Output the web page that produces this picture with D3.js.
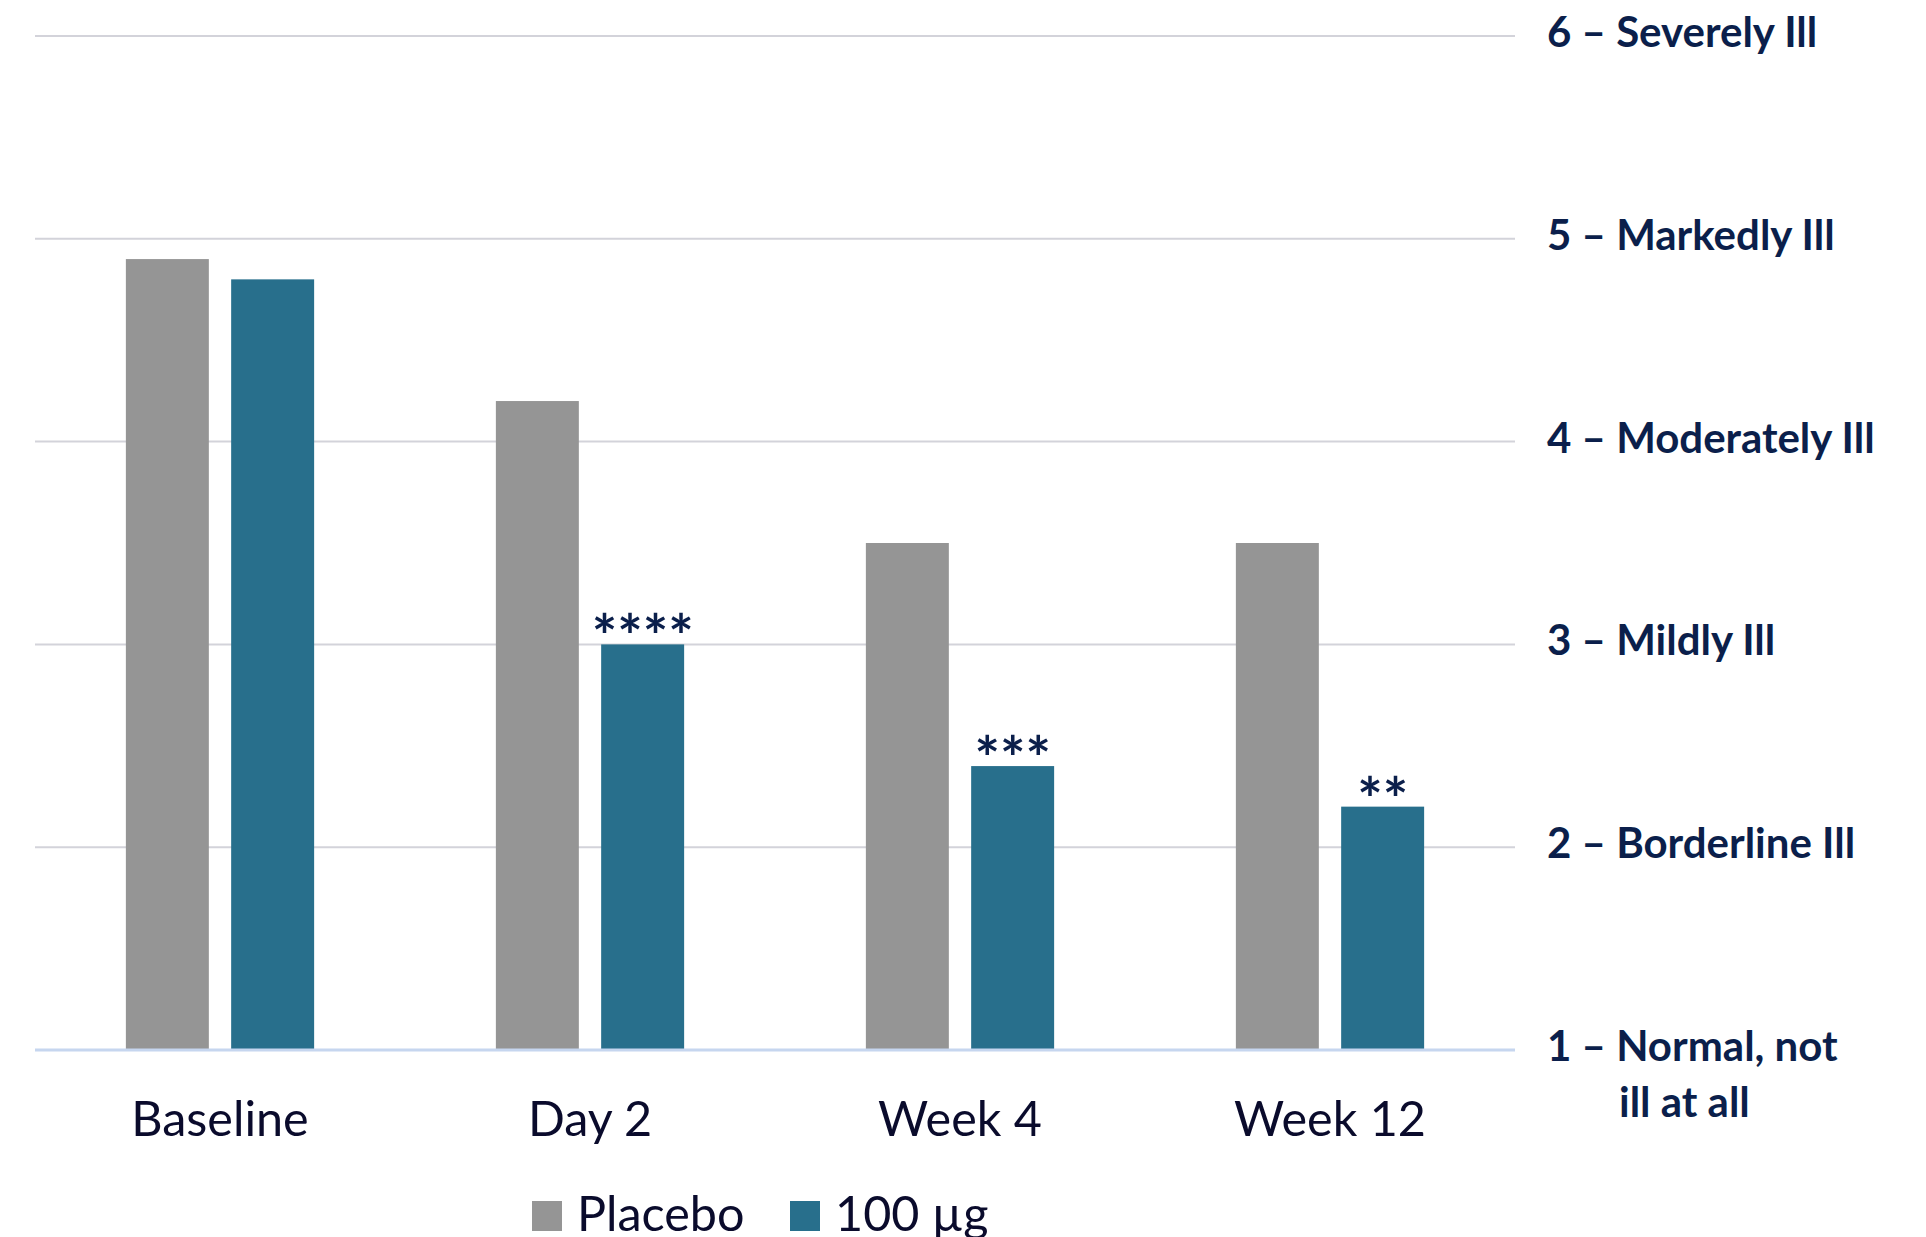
<!DOCTYPE html>
<html>
<head>
<meta charset="utf-8">
<script src="https://cdn.jsdelivr.net/npm/d3@7"></script>
<style>
  html, body { margin: 0; padding: 0; background: #ffffff; }
  svg { display: block; }
</style>
</head>
<body>
<svg id="chart" width="1926" height="1237"></svg>
<script>
// CGI-S severity over time, placebo vs. 100 µg
const categories = ["Baseline", "Day 2", "Week 4", "Week 12"];
const seriesNames = ["Placebo", "100 µg"];
const placeboValues = [4.9, 4.2, 3.5, 3.5];
const doseValues = [4.8, 3.0, 2.4, 2.2];
const significance = ["", "****", "***", "**"];
const severityTicks = [1, 2, 3, 4, 5, 6];
const severityLabels = [
  ["1 – Normal, not", "ill at all"],
  ["2 – Borderline Ill"],
  ["3 – Mildly Ill"],
  ["4 – Moderately Ill"],
  ["5 – Markedly Ill"],
  ["6 – Severely Ill"]
];

const colors = { "Placebo": "#959595", "100 µg": "#286f8c" };
const navy = "#0b1f4b";
const labelInk = "#0a0b2c";

const svg = d3.select("#chart");
const plot = { left: 35, right: 1515, top: 36, bottom: 1050 };

const x = d3.scaleBand().domain(categories).range([plot.left, plot.right]);
const xInner = d3.scaleBand().domain(seriesNames)
  .range([0, x.bandwidth()]).paddingInner(0.212).paddingOuter(0.863);
const y = d3.scaleLinear().domain([1, 6]).range([plot.bottom, plot.top]);

// horizontal gridlines
svg.append("g")
  .selectAll("line")
  .data(severityTicks.filter(t => t > 1))
  .join("line")
  .attr("x1", plot.left).attr("x2", plot.right)
  .attr("y1", d => y(d)).attr("y2", d => y(d))
  .attr("stroke", "#d3d3da").attr("stroke-width", 2);

// bars
const rows = categories.map((c, i) => ({
  category: c,
  values: [
    { series: "Placebo", value: placeboValues[i] },
    { series: "100 µg", value: doseValues[i] }
  ],
  sig: significance[i]
}));

const groups = svg.append("g").selectAll("g")
  .data(rows).join("g")
  .attr("transform", d => `translate(${x(d.category)},0)`);

groups.selectAll("rect")
  .data(d => d.values).join("rect")
  .attr("x", d => xInner(d.series))
  .attr("width", xInner.bandwidth())
  .attr("y", d => y(d.value))
  .attr("height", d => y(1) - y(d.value))
  .attr("fill", d => colors[d.series]);

// significance markers above the 100 µg bars
groups.append("text")
  .attr("x", xInner("100 µg") + xInner.bandwidth() / 2)
  .attr("y", (d, i) => y(doseValues[i]) + 14)
  .attr("text-anchor", "middle")
  .attr("font-family", "Lato, sans-serif")
  .attr("font-weight", 700)
  .attr("font-size", 60)
  .attr("letter-spacing", 0)
  .attr("fill", navy)
  .text(d => d.sig);

// baseline axis
svg.append("line")
  .attr("x1", plot.left).attr("x2", plot.right)
  .attr("y1", y(1)).attr("y2", y(1))
  .attr("stroke", "#c6d6ef").attr("stroke-width", 3);

// category labels
svg.append("g").selectAll("text")
  .data(categories).join("text")
  .attr("x", d => x(d) + x.bandwidth() / 2)
  .attr("y", 1136)
  .attr("text-anchor", "middle")
  .attr("font-family", "Lato, sans-serif")
  .attr("font-size", 48.5)
  .attr("fill", labelInk)
  .text(d => d);

// severity scale labels on the right
const rightLabels = svg.append("g").selectAll("text")
  .data(severityTicks).join("text")
  .attr("x", 1547)
  .attr("y", d => y(d) + 11)
  .attr("font-family", "Lato, sans-serif")
  .attr("font-weight", 700)
  .attr("font-size", 42)
  .attr("fill", navy);

rightLabels.each(function (d, i) {
  const lines = severityLabels[i];
  const t = d3.select(this);
  lines.forEach((line, k) => {
    t.append("tspan")
      .attr("x", k === 0 ? 1547 : 1619)
      .attr("dy", k === 0 ? 0 : 56)
      .text(line);
  });
});

// legend
const legend = svg.append("g").attr("transform", "translate(532,1201)");
const legendX = [0, 258];
seriesNames.forEach((s, i) => {
  const item = legend.append("g").attr("transform", `translate(${legendX[i]},0)`);
  item.append("rect").attr("width", 30).attr("height", 30).attr("fill", colors[s]);
  item.append("text")
    .attr("x", 45).attr("y", 30)
    .attr("font-family", "Lato, sans-serif")
    .attr("font-size", 48.5)
    .attr("fill", labelInk)
    .text(s);
});
</script>
</body>
</html>
